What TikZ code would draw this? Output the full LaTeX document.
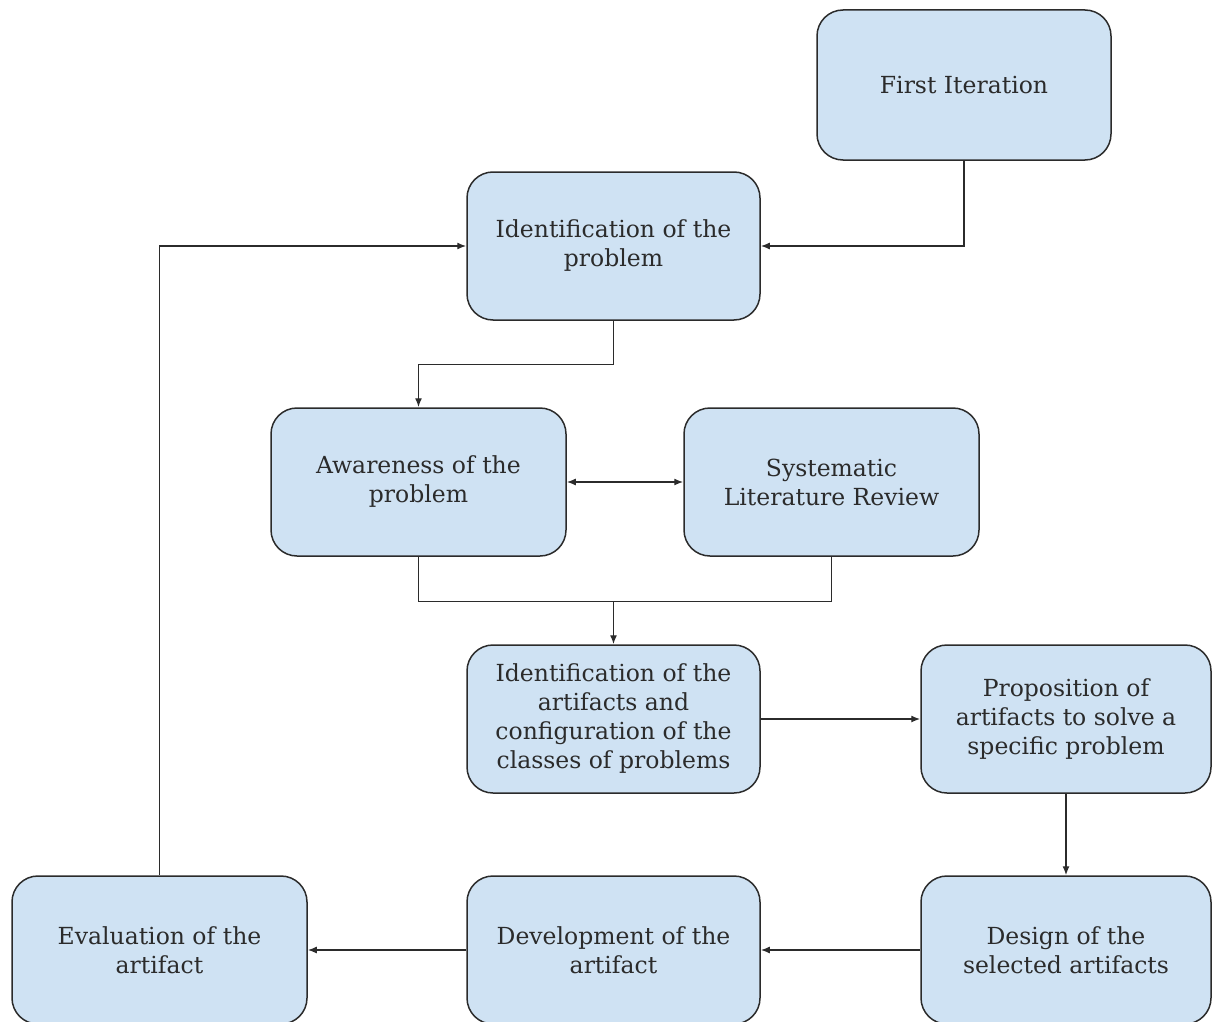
\documentclass[tikz,border=0pt]{standalone}
\usepackage{fontspec}
\setmainfont{DejaVu Serif}
\usetikzlibrary{arrows.meta}
\definecolor{boxfill}{HTML}{CFE2F3}
\definecolor{ink}{HTML}{2B2B2B}
\begin{document}
\begin{tikzpicture}[x=1pt,y=-1pt,
  stage/.style={draw=ink, fill=boxfill, line width=1.5pt, rounded corners=26pt,
    minimum width=294pt, minimum height=148pt, align=center, text=ink,
    font=\fontsize{23.5}{29}\selectfont, inner sep=0pt},
  link/.style={draw=ink, line width=1.4pt},
  tip/.style={-{Latex[length=9pt,width=7pt]}}]
\path[use as bounding box] (0,0) rectangle (1212,1022);
\clip (0,0) rectangle (1212,1022);

% stages of the process
\node[stage, minimum height=150pt] (first) at (964,85) {First Iteration};
\node[stage, minimum width=293pt] (ident) at (613.5,246) {Identification of the\\problem};
\node[stage, minimum width=295pt] (aware) at (418.5,482) {Awareness of the\\problem};
\node[stage, minimum width=295pt] (slr) at (831.5,482) {Systematic\\Literature Review};
\node[stage, minimum width=293pt] (artid) at (613.5,719) {Identification of the\\artifacts and\\configuration of the\\classes of problems};
\node[stage, minimum width=290pt] (prop) at (1066,719) {Proposition of\\artifacts to solve a\\specific problem};
\node[stage, minimum width=295pt] (eval) at (159.5,950) {Evaluation of the\\artifact};
\node[stage, minimum width=293pt] (dev) at (613.5,950) {Development of the\\artifact};
\node[stage, minimum width=290pt] (design) at (1066,950) {Design of the\\selected artifacts};

% connectors
\draw[link, tip] (first.south) |- (ident.east);
\draw[link, tip] (ident.south) -- ++(0,44) -| (aware.north);
\draw[link, {Latex[length=9pt,width=7pt]}-{Latex[length=9pt,width=7pt]}] (aware.east) -- (slr.west);
\draw[link] (aware.south) -- ++(0,45) coordinate (merge) -| (slr.south);
\draw[link, tip] (merge -| artid.north) -- (artid.north);
\draw[link, tip] (artid.east) -- (prop.west);
\draw[link, tip] (prop.south) -- (design.north);
\draw[link, tip] (design.west) -- (dev.east);
\draw[link, tip] (dev.west) -- (eval.east);
\draw[link, tip] (eval.north) |- (ident.west);
\end{tikzpicture}
\end{document}
